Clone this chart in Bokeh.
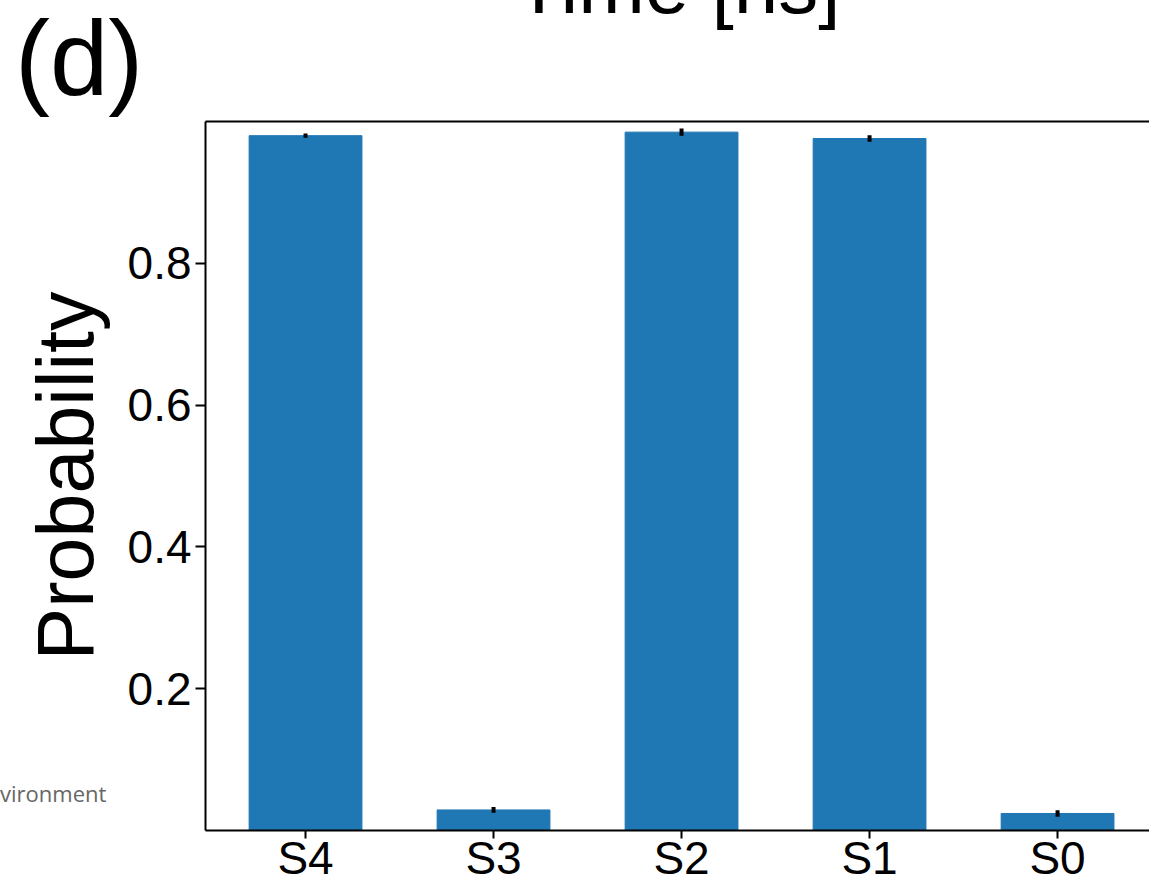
from bokeh.plotting import figure
from bokeh.models import Range1d, FixedTicker, LinearAxis, ColumnDataSource, Div
from bokeh.layouts import column
from bokeh.embed import file_html
from bokeh.resources import INLINE

# ---- data ----
states = ["S4", "S3", "S2", "S1", "S0"]
probability = [0.980, 0.029, 0.985, 0.976, 0.024]
prob_error = [0.003, 0.004, 0.005, 0.0045, 0.0047]
y_ticks = [0.2, 0.4, 0.6, 0.8]

xs = list(range(len(states)))
lower = [v - e for v, e in zip(probability, prob_error)]
upper = [v + e for v, e in zip(probability, prob_error)]
src = ColumnDataSource(dict(x=xs, top=probability, lo=lower, hi=upper))

FONT = "Liberation Sans"
W, H = 1149, 886
HIDDEN_TOP = 70  # part of the figure above the window (title is cut off there)

p = figure(width=W, height=H + HIDDEN_TOP, output_backend="svg", toolbar_location=None,
           x_range=Range1d(-0.532, 4.489), y_range=Range1d(0, 1.0),
           min_border_left=205, min_border_right=0, min_border_top=121 + HIDDEN_TOP,
           min_border_bottom=56, x_axis_location=None, y_axis_location=None)
p.margin = (-HIDDEN_TOP, 0, 0, 0)
p.outline_line_color = None
p.xgrid.visible = False
p.ygrid.visible = False
p.background_fill_color = "white"
p.border_fill_color = "white"

p.vbar(x="x", top="top", width=0.6, color="#1f77b4", source=src)
p.segment(x0="x", y0="lo", x1="x", y1="hi", line_width=4, line_color="black", source=src)

# bottom axis
xa = LinearAxis(ticker=FixedTicker(ticks=xs),
                major_label_overrides={i: s for i, s in enumerate(states)})
xa.axis_line_width = 2
xa.major_tick_line_width = 2
xa.major_tick_out = 8
xa.major_tick_in = 0
xa.minor_tick_line_color = None
xa.major_label_text_font = FONT
xa.major_label_text_font_size = "46px"
xa.major_label_text_color = "black"
xa.major_label_standoff = -7
p.add_layout(xa, "below")

# left axis
ya = LinearAxis(ticker=FixedTicker(ticks=y_ticks), axis_label="Probability")
ya.axis_line_width = 2
ya.major_tick_line_width = 2
ya.major_tick_out = 10
ya.major_tick_in = 0
ya.minor_tick_line_color = None
ya.major_label_text_font = FONT
ya.major_label_text_font_size = "46px"
ya.major_label_text_color = "black"
ya.major_label_standoff = 4
ya.axis_label_text_font = FONT
ya.axis_label_text_font_size = "79px"
ya.axis_label_text_font_style = "normal"
ya.axis_label_text_color = "black"
ya.axis_label_standoff = 15
p.add_layout(ya, "left")

# top spine, carrying the "Time [ns]" label of the panel above
ta = LinearAxis(ticker=FixedTicker(ticks=[]), axis_label="Time [ns]")
ta.axis_line_width = 2
ta.major_tick_out = 0
ta.major_tick_in = 0
ta.minor_tick_line_color = None
ta.major_label_text_font_size = "0px"
ta.major_label_standoff = 0
ta.axis_label_text_font = FONT
ta.axis_label_text_font_size = "80px"
ta.axis_label_text_font_style = "normal"
ta.axis_label_text_color = "black"
ta.axis_label_standoff = 92
p.add_layout(ta, "above")

# loose texts in a transparent overlay (pixel positions of the window)
html = (
    '<div style="position:relative;width:%dpx;height:%dpx;">'
    '<span style="position:absolute;left:15px;top:6px;font-family:\'Liberation Sans\';'
    'font-size:105px;line-height:1;color:#000;white-space:nowrap;">(d)</span>'
    '<span style="position:absolute;left:0px;top:782px;font-family:\'Open Sans\';'
    'font-size:22px;line-height:1;color:#666666;white-space:nowrap;">vironment</span>'
    '</div>' % (W, H)
)
ov = Div(text=html, width=W, height=H, margin=(-H, 0, 0, 0))

layout = column(p, ov)
open("out.html", "w").write(file_html(layout, INLINE))
